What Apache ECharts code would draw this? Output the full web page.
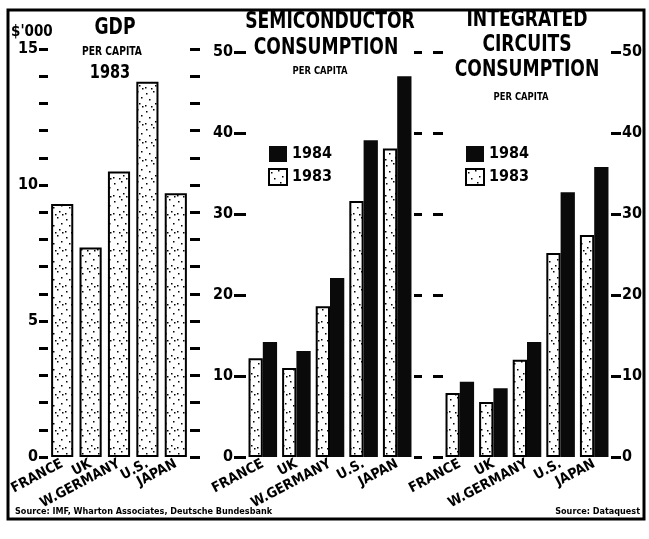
<!DOCTYPE html>
<html>
<head>
<meta charset="utf-8">
<script src="https://cdn.jsdelivr.net/npm/echarts@6/dist/echarts.min.js"></script>
<style>
  html, body { margin: 0; padding: 0; background: #fff; }
  #chart { width: 649px; height: 539px; }
</style>
</head>
<body>
<div id="chart"></div>
<script>
// ── Data ────────────────────────────────────────────────────────────
const countries = ['FRANCE', 'UK', 'W.GERMANY', 'U.S.', 'JAPAN'];
const gdp1983 = [9.3, 7.7, 10.5, 13.8, 9.7];          // $'000 per capita
const semi1983 = [12.2, 11.0, 18.6, 31.6, 38.1];
const semi1984 = [14.2, 13.1, 22.1, 39.1, 47.0];
const ic1983 = [7.9, 6.8, 12.0, 25.2, 27.4];
const ic1984 = [9.3, 8.5, 14.2, 32.7, 35.8];

// ── Style ───────────────────────────────────────────────────────────
const ink = '#000';
const head = '"DejaVu Sans Condensed", "DejaVu Sans", sans-serif';

// stipple fill for the white bars (fixed dot layout)
function stipple() {
  const c = document.createElement('canvas');
  c.width = 16; c.height = 18;
  const g = c.getContext('2d');
  g.fillStyle = '#fff';
  g.fillRect(0, 0, 16, 18);
  g.fillStyle = '#000';
  [[2, 3], [9, 1], [13, 7], [5, 9], [11, 13], [1, 15], [7, 16], [14, 16]].forEach(([x, y]) => g.fillRect(x, y, 1.5, 1.5));
  return c;
}
const dotted = { image: stipple(), repeat: 'repeat' };
const whiteBar = { color: dotted, borderColor: ink, borderWidth: 2 };
const blackBar = { color: '#0a0a0a' };

const labelFont = { fontFamily: head, fontWeight: 'bold', fontSize: 16, color: ink };

function xAx(gridIndex) {
  return {
    type: 'category', gridIndex, data: countries,
    axisLine: { show: false }, axisTick: { show: false },
    axisLabel: { rotate: 28, margin: 6, interval: 0, fontFamily: head, fontWeight: 'bold', fontSize: 14, color: ink }
  };
}
function yAx(gridIndex, position, max, interval, showLabel, tickLen, fmt) {
  return {
    type: 'value', gridIndex, position, min: 0, max, interval,
    splitLine: { show: false },
    axisLine: { show: false },
    axisTick: { show: true, length: tickLen, lineStyle: { color: ink, width: 3 } },
    axisLabel: Object.assign({ show: showLabel, margin: tickLen + 1, formatter: fmt }, labelFont)
  };
}
const every5 = v => (v % 5 === 0 ? String(v) : '');
const every10 = v => String(v);

function heading(text, x, y, size, sx) {
  return { type: 'text', x, y, scaleX: sx, style: { text, font: 'bold ' + size + 'px ' + head, fill: ink, align: 'center', verticalAlign: 'middle' } };
}

const chart = echarts.init(document.getElementById('chart'));
chart.setOption({
  animation: false,
  backgroundColor: '#fff',
  grid: [
    { left: 48, right: 459, top: 49, bottom: 82 },
    { left: 246, right: 235, top: 52, bottom: 82 },
    { left: 443, right: 38, top: 52, bottom: 82 }
  ],
  xAxis: [xAx(0), xAx(1), xAx(2)],
  yAxis: [
    yAx(0, 'left', 15, 1, true, 9, every5),
    yAx(0, 'right', 15, 1, false, 10, every5),
    yAx(1, 'left', 50, 10, true, 12, every10),
    yAx(1, 'right', 50, 10, false, 8, every10),
    yAx(2, 'left', 50, 10, false, 10, every10),
    yAx(2, 'right', 50, 10, true, 10, every10)
  ],
  legend: [
    { left: 263, top: 141, orient: 'vertical', icon: 'rect', itemWidth: 18, itemHeight: 16, itemGap: 6,
      data: ['1984', '1983'], selectedMode: false, textStyle: labelFont },
    { left: 460, top: 141, orient: 'vertical', icon: 'rect', itemWidth: 18, itemHeight: 16, itemGap: 6,
      data: ['1984', '1983'], selectedMode: false, textStyle: labelFont }
  ],
  series: [
    { name: 'GDP 1983', type: 'bar', xAxisIndex: 0, yAxisIndex: 0, data: gdp1983,
      barCategoryGap: '22%', itemStyle: whiteBar },
    { name: '1983', type: 'bar', xAxisIndex: 1, yAxisIndex: 2, data: semi1983,
      barGap: '0%', barCategoryGap: '15%', itemStyle: whiteBar },
    { name: '1984', type: 'bar', xAxisIndex: 1, yAxisIndex: 2, data: semi1984,
      barGap: '0%', barCategoryGap: '15%', itemStyle: blackBar },
    { name: '1983', type: 'bar', xAxisIndex: 2, yAxisIndex: 4, data: ic1983,
      barGap: '0%', barCategoryGap: '15%', itemStyle: whiteBar },
    { name: '1984', type: 'bar', xAxisIndex: 2, yAxisIndex: 4, data: ic1984,
      barGap: '0%', barCategoryGap: '15%', itemStyle: blackBar }
  ],
  graphic: [
    { type: 'rect', shape: { x: 8, y: 10, width: 636, height: 509 },
      style: { fill: 'none', stroke: ink, lineWidth: 3 } },
    // left panel headings
    { type: 'text', x: 11, y: 32, style: { text: "$'000", font: 'bold 15px ' + head, fill: ink, verticalAlign: 'middle' } },
    heading('GDP', 115, 28, 23, 0.83),
    heading('PER CAPITA', 112, 52, 12, 0.85),
    heading('1983', 110, 73, 19, 0.85),
    // middle panel headings
    heading('SEMICONDUCTOR', 330, 22, 23, 0.83),
    heading('CONSUMPTION', 326, 48, 23, 0.83),
    heading('PER CAPITA', 320, 71, 11, 0.85),
    // right panel headings
    heading('INTEGRATED', 527, 20, 23, 0.83),
    heading('CIRCUITS', 527, 45, 23, 0.83),
    heading('CONSUMPTION', 527, 70, 23, 0.83),
    heading('PER CAPITA', 521, 97, 11, 0.85),
    // sources
    { type: 'text', x: 15, y: 512, style: { text: 'Source: IMF, Wharton Associates, Deutsche Bundesbank', font: 'bold 9px ' + head, fill: ink, verticalAlign: 'middle' } },
    { type: 'text', x: 640, y: 512, style: { text: 'Source: Dataquest', font: 'bold 9px ' + head, fill: ink, align: 'right', verticalAlign: 'middle' } }
  ]
});
</script>
</body>
</html>
